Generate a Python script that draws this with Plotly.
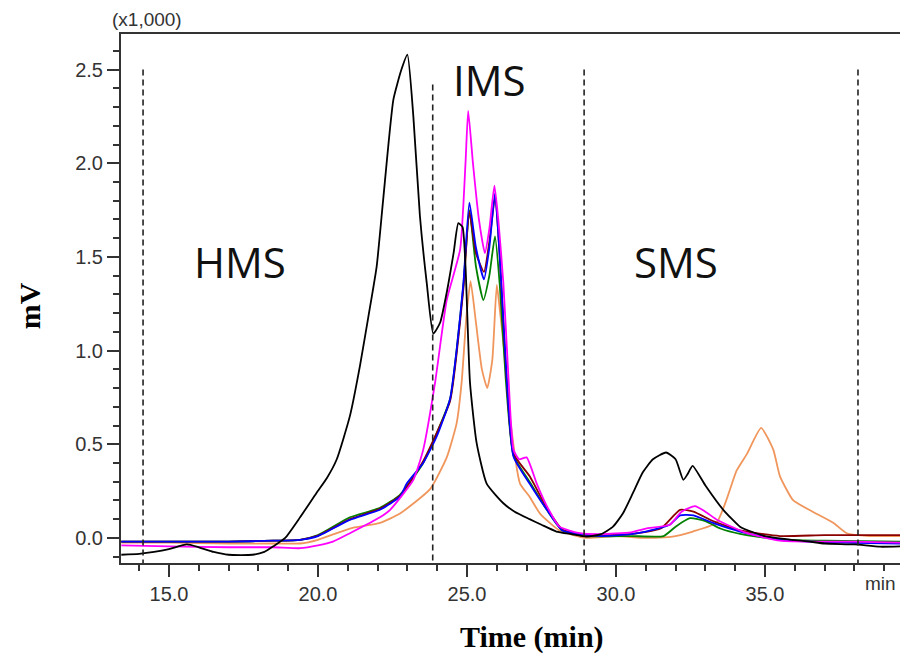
import plotly.graph_objects as go

# ---------------- data (values in x1,000 mV) ----------------
t_black = [13.4, 14.0, 14.5, 15.0, 15.6, 16.0, 16.5, 17.0, 17.8, 18.2, 18.5, 18.9, 19.4, 19.95,
           20.3, 20.63, 21.07, 21.41, 21.69, 21.97, 22.19, 22.53, 22.8, 23.0, 23.2, 23.42, 23.65,
           23.87, 24.1, 24.32, 24.55, 24.71, 24.85, 24.95, 25.1, 25.32, 25.66, 26.22, 26.6, 27.1,
           27.5, 28.0, 28.5, 29.0, 29.5, 29.9, 30.23, 30.57, 30.9, 31.24, 31.68, 32.0, 32.26,
           32.4, 32.57, 33.0, 33.6, 34.16, 34.6, 35.0, 35.9, 36.5, 37.0, 38.0, 38.86, 39.6]
v_black = [-0.09, -0.085, -0.075, -0.06, -0.035, -0.05, -0.075, -0.09, -0.09, -0.075, -0.045, 0.0,
           0.11, 0.24, 0.32, 0.42, 0.65, 0.92, 1.18, 1.45, 1.81, 2.34, 2.50, 2.58, 2.25, 1.72, 1.36,
           1.09, 1.15, 1.31, 1.52, 1.68, 1.66, 1.45, 0.83, 0.51, 0.29, 0.185, 0.14, 0.10,
           0.07, 0.034, 0.02, 0.007, 0.02, 0.06, 0.13, 0.24, 0.35, 0.42, 0.456, 0.42, 0.31,
           0.34, 0.385, 0.28, 0.15, 0.06, 0.03, 0.01, -0.01, -0.02, -0.03, -0.035, -0.047, -0.045]

t_orange = [13.4, 15.0, 17.0, 18.5, 19.4, 20.0, 21.07, 22.08, 22.75, 23.76, 24.32, 24.65, 24.82,
            24.98, 25.12, 25.3, 25.5, 25.68, 25.85, 26.0, 26.1, 26.25, 26.44, 26.78, 27.1, 27.45,
            28.1, 29.0, 30.0, 31.0, 31.9, 32.58, 33.37, 33.7, 34.05, 34.4, 34.87, 35.28, 35.5,
            35.95, 36.6, 37.3, 37.74, 38.5, 39.6]
v_orange = [-0.025, -0.025, -0.03, -0.03, -0.03, -0.01, 0.05, 0.08, 0.13, 0.26, 0.43, 0.61, 0.83,
            1.18, 1.37, 1.15, 0.90, 0.80, 0.95, 1.35, 1.22, 1.0, 0.65, 0.29, 0.22, 0.13,
            0.04, 0.0, 0.01, 0.0, 0.007, 0.034, 0.08, 0.20, 0.36, 0.45, 0.587, 0.47, 0.33,
            0.20, 0.14, 0.08, 0.025, 0.01, 0.01]

t_magenta = [13.4, 15.0, 17.0, 18.5, 19.4, 20.0, 20.5, 21.07, 22.08, 22.42, 23.2, 23.53, 23.93,
             24.32, 24.77, 24.95, 25.04, 25.2, 25.4, 25.6, 25.75, 25.92, 26.05, 26.22, 26.39,
             26.56, 26.75, 27.0, 27.34, 27.68, 28.1, 28.8, 29.5, 30.5, 31.0, 31.8, 32.2, 32.65,
             33.0, 33.4, 34.4, 35.5, 36.5, 38.0, 39.6]
v_magenta = [-0.04, -0.045, -0.05, -0.05, -0.055, -0.04, -0.02, 0.025, 0.11, 0.15, 0.31, 0.47, 0.83,
             1.27, 1.54, 2.0, 2.28, 2.0, 1.7, 1.52, 1.65, 1.88, 1.7, 1.36, 0.86,
             0.47, 0.42, 0.43, 0.29, 0.17, 0.06, 0.025, 0.02, 0.03, 0.05, 0.07, 0.14, 0.17,
             0.14, 0.096, 0.025, -0.015, -0.02, -0.02, -0.025]

t_blue = [13.4, 15.0, 17.0, 18.5, 19.4, 20.0, 21.07, 22.08, 22.75, 22.98, 23.53, 23.98, 24.43,
          24.65, 24.88, 25.08, 25.3, 25.57, 25.75, 25.94, 26.1, 26.28, 26.56, 27.1, 27.68, 28.2,
          28.8, 29.5, 30.5, 31.0, 31.8, 32.15, 32.6, 33.25, 34.16, 35.5, 36.5, 38.0, 39.6]
v_blue = [-0.02, -0.02, -0.02, -0.015, -0.01, 0.01, 0.096, 0.15, 0.22, 0.29, 0.40, 0.54, 0.74,
          1.0, 1.36, 1.79, 1.55, 1.38, 1.55, 1.84, 1.5, 1.0, 0.435, 0.29, 0.15, 0.04,
          0.02, 0.01, 0.02, 0.034, 0.07, 0.12, 0.12, 0.08, 0.034, -0.01, -0.02, -0.027, -0.03]

t_green = [13.4, 15.0, 17.0, 18.5, 19.4, 20.0, 21.07, 22.08, 22.75, 23.53, 24.43, 24.65, 24.88,
           25.08, 25.3, 25.55, 25.75, 25.94, 26.1, 26.3, 26.56, 27.1, 27.68, 28.2, 29.0, 30.5,
           31.6, 32.0, 32.48, 33.0, 33.5, 34.2, 35.5, 37.0, 39.6]
v_green = [-0.02, -0.02, -0.02, -0.015, -0.01, 0.015, 0.11, 0.16, 0.23, 0.40, 0.74, 1.0, 1.35,
           1.75, 1.45, 1.27, 1.40, 1.61, 1.35, 0.85, 0.44, 0.30, 0.15, 0.04, 0.01, 0.01,
           0.01, 0.06, 0.105, 0.09, 0.05, 0.02, -0.01, -0.015, -0.02]

t_darkred = [13.4, 15.0, 17.0, 18.5, 19.4, 20.0, 21.07, 22.08, 22.75, 23.53, 24.43, 24.65, 24.88,
             25.08, 25.3, 25.57, 25.75, 25.94, 26.1, 26.28, 26.56, 27.1, 27.68, 28.2, 29.0, 30.5,
             31.5, 32.15, 32.6, 33.25, 34.16, 35.5, 37.0, 39.6]
v_darkred = [-0.02, -0.02, -0.02, -0.015, -0.01, 0.012, 0.10, 0.155, 0.225, 0.41, 0.73, 0.98, 1.33,
             1.74, 1.52, 1.42, 1.58, 1.82, 1.5, 0.98, 0.45, 0.33, 0.16, 0.045, 0.015, 0.02,
             0.05, 0.15, 0.14, 0.09, 0.04, 0.01, 0.015, 0.015]

series = [
    ("orange", t_orange, v_orange, "#F0965C"),
    ("green", t_green, v_green, "#008000"),
    ("darkred", t_darkred, v_darkred, "#8B0000"),
    ("blue", t_blue, v_blue, "#0000FF"),
    ("magenta", t_magenta, v_magenta, "#FF00FF"),
    ("black", t_black, v_black, "#000000"),
]

boundaries = [14.13, 23.85, 28.93, 38.12]
boundary_tops = [2.5, 2.42, 2.5, 2.5]
region_labels = ["HMS", "IMS", "SMS"]
region_x = [17.38, 25.77, 32.01]
region_y = [1.476, 2.449, 1.476]

x_ticks = [15.0, 20.0, 25.0, 30.0, 35.0]
y_ticks = [0.0, 0.5, 1.0, 1.5, 2.0, 2.5]

# ---------------- figure ----------------
fig = go.Figure()
for name, t, v, c in series:
    fig.add_trace(go.Scatter(x=t, y=v, mode="lines", name=name,
                             line=dict(color=c, width=1.8, shape="spline", smoothing=0.5),
                             showlegend=False))

for b, top in zip(boundaries, boundary_tops):
    fig.add_shape(type="line", xref="x", yref="y", x0=b, x1=b, y0=top, y1=-0.134,
                  line=dict(color="#222222", width=1.6, dash="6px,4px"))

for lab, x, y in zip(region_labels, region_x, region_y):
    fig.add_annotation(x=x, y=y, xref="x", yref="y", text=lab, showarrow=False,
                       font=dict(family="Open Sans", size=42, color="#111111"))

fig.add_annotation(xref="paper", yref="paper", x=0.034, y=1.027, xanchor="center",
                   yanchor="middle", text="(x1,000)", showarrow=False,
                   font=dict(family="Liberation Sans", size=19, color="#333333"))
fig.add_annotation(xref="paper", yref="paper", x=0.998, y=-0.038, xanchor="right",
                   yanchor="middle", text="min", showarrow=False,
                   font=dict(family="Liberation Sans", size=19, color="#333333"))

fig.add_annotation(xref="paper", yref="paper", x=0.528, y=-0.14, xanchor="center",
                   yanchor="middle", text="<b>Time (min)</b>", showarrow=False,
                   font=dict(family="Liberation Serif", size=30, color="#000000"))
fig.add_annotation(xref="paper", yref="paper", x=-0.117, y=0.487, xanchor="center",
                   yanchor="middle", text="<b>mV</b>", textangle=-90, showarrow=False,
                   font=dict(family="Liberation Serif", size=30, color="#000000"))

fig.update_layout(
    width=900, height=655,
    margin=dict(l=121, r=0, t=34, b=92),
    paper_bgcolor="white", plot_bgcolor="white",
    xaxis=dict(range=[13.39, 39.53], tickvals=x_ticks, ticktext=[f"{v:.1f}" for v in x_ticks],
               showgrid=False, zeroline=False, showline=True, linecolor="#333333", linewidth=2,
               mirror=True, ticks="outside", ticklen=12, tickwidth=1.5, tickcolor="#333333",
               minor=dict(dtick=1, tick0=15, ticks="outside", ticklen=6, tickwidth=1.5,
                          tickcolor="#333333", showgrid=False),
               tickfont=dict(family="Liberation Sans", size=20, color="#333333")),
    yaxis=dict(range=[-0.134, 2.69], tickvals=y_ticks, ticktext=[f"{v:.1f}" for v in y_ticks],
               showgrid=False, zeroline=False, showline=True, linecolor="#333333", linewidth=2,
               ticks="outside", ticklen=12, tickwidth=1.5, tickcolor="#333333",
               minor=dict(dtick=0.1, tick0=0, ticks="outside", ticklen=6, tickwidth=1.5,
                          tickcolor="#333333", showgrid=False),
               tickfont=dict(family="Liberation Sans", size=20, color="#333333")),
)

fig.write_html("out.html")
